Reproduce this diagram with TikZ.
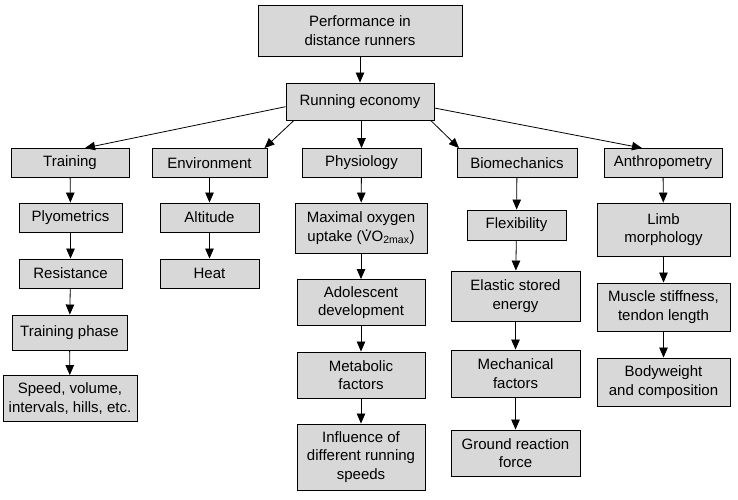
\documentclass[tikz,border=0pt]{standalone}
\usepackage{fontspec}
\setmainfont{Liberation Sans}
\usetikzlibrary{arrows.meta}
\definecolor{boxgray}{RGB}{216,216,216}
\newcommand{\vdotV}{\rlap{\hspace{0.2em}\raisebox{0.62em}{.}}V}
\begin{document}
\begin{tikzpicture}[x=1pt,y=1pt,
  box/.style={draw=black,line width=0.9pt,fill=boxgray,inner sep=0pt,align=center,
    font=\fontsize{15}{18.3}\selectfont},
  arr/.style={line width=0.8pt,-{Triangle[length=10pt,width=8.5pt]}}]
\useasboundingbox (0,0) rectangle (738,500);
% top
\node[box,minimum width=204,minimum height=51] (perf) at (360,469.5) {Performance in\\distance runners};
\node[box,minimum width=148,minimum height=37] (re) at (360,398.5) {Running economy};
% row 1
\node[box,minimum width=118,minimum height=29] (train) at (70,337) {Training};
\node[box,minimum width=115,minimum height=29] (env) at (209.5,337) {Environment};
\node[box,minimum width=119,minimum height=29] (phys) at (361.5,337) {Physiology};
\node[box,minimum width=120,minimum height=29] (bio) at (517,337) {Biomechanics};
\node[box,minimum width=118,minimum height=29] (anth) at (663,337) {Anthropometry};
% training column
\node[box,minimum width=103,minimum height=29] (plyo) at (70.5,282.5) {Plyometrics};
\node[box,minimum width=103,minimum height=29] (resist) at (70.5,226.5) {Resistance};
\node[box,minimum width=115,minimum height=35] (tphase) at (69.5,167.5) {Training phase};
\node[box,minimum width=134,minimum height=46] (speed) at (70,101.5) {Speed, volume,\\intervals, hills, etc.};
% environment column
\node[box,minimum width=99,minimum height=29] (alt) at (209.5,282.5) {Altitude};
\node[box,minimum width=99,minimum height=29] (heat) at (209.5,226.5) {Heat};
% physiology column
\node[box,minimum width=132,minimum height=50] (vo2) at (361,272) {Maximal oxygen\\uptake (\vdotV O\textsubscript{2max})};
\node[box,minimum width=128,minimum height=46] (adol) at (361,197.5) {Adolescent\\development};
\node[box,minimum width=128,minimum height=46] (metab) at (361,125) {Metabolic\\factors};
\node[box,minimum width=128,minimum height=66] (infl) at (361,43) {Influence of\\different running\\speeds};
% biomechanics column
\node[box,minimum width=99,minimum height=30] (flex) at (516.5,275) {Flexibility};
\node[box,minimum width=129,minimum height=50] (elas) at (515.5,204) {Elastic stored\\energy};
\node[box,minimum width=129,minimum height=47] (mech) at (515.5,126.5) {Mechanical\\factors};
\node[box,minimum width=129,minimum height=46] (grf) at (515.5,47) {Ground reaction\\force};
% anthropometry column
\node[box,minimum width=133,minimum height=53] (limb) at (663.5,270.5) {Limb\\morphology};
\node[box,minimum width=133,minimum height=48] (musc) at (663.5,193) {Muscle stiffness,\\tendon length};
\node[box,minimum width=133,minimum height=48] (body) at (663.5,118) {Bodyweight\\and composition};
% connectors
\draw[arr] (perf) -- (re);
\draw[arr] (re.184) -- ([xshift=15pt]train.north);
\draw[arr] (re.196) -- ([xshift=55pt]env.north);
\draw[arr] (re.south -| phys.north) -- (phys.north);
\draw[arr] (re.345) -- ([xshift=-58pt]bio.north);
\draw[arr] (re.355) -- ([xshift=-21pt]anth.north);
\draw[arr] (train) -- (plyo);
\draw[arr] (plyo) -- (resist);
\draw[arr] (resist) -- (tphase);
\draw[arr] (tphase) -- (speed);
\draw[arr] (env) -- (alt);
\draw[arr] (alt) -- (heat);
\draw[arr] (phys) -- (vo2);
\draw[arr] (vo2) -- (adol);
\draw[arr] (adol) -- (metab);
\draw[arr] (metab) -- (infl);
\draw[arr] (bio) -- (flex);
\draw[arr] (flex) -- (elas);
\draw[arr] (elas) -- (mech);
\draw[arr] (mech) -- (grf);
\draw[arr] (anth) -- (limb);
\draw[arr] (limb) -- (musc);
\draw[arr] (musc) -- (body);
\end{tikzpicture}
\end{document}
